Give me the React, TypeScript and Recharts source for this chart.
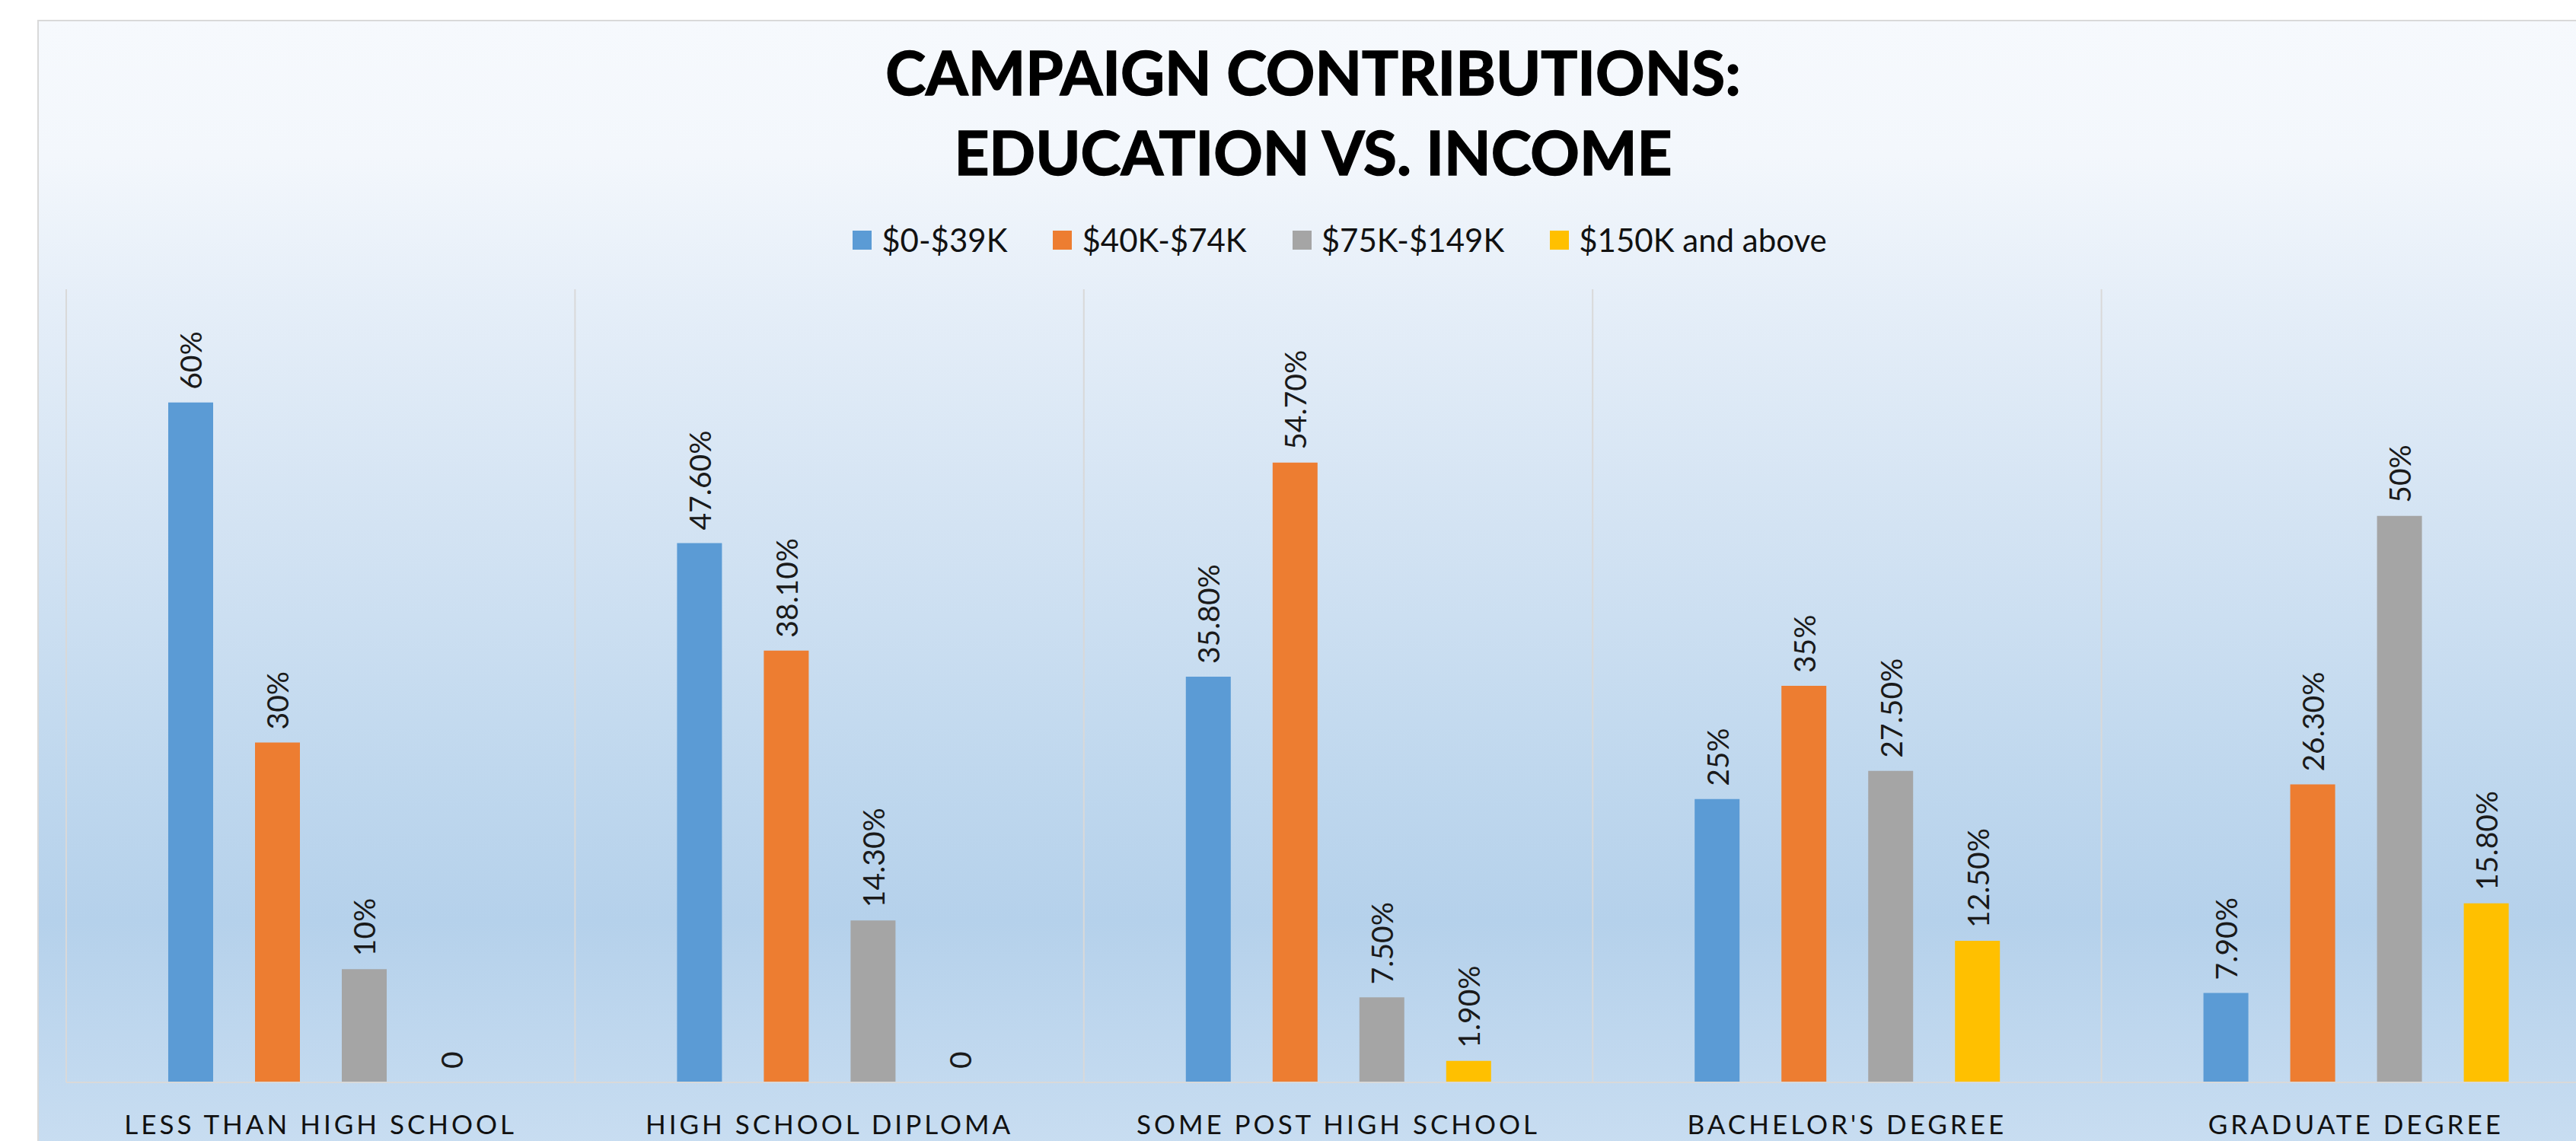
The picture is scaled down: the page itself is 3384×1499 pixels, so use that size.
import React from "react";
import { BarChart, Bar, XAxis, YAxis, CartesianGrid, Legend, LabelList, Cell } from "recharts";

const categories = [
  "LESS THAN HIGH SCHOOL",
  "HIGH SCHOOL DIPLOMA",
  "SOME POST HIGH SCHOOL",
  "BACHELOR'S DEGREE",
  "GRADUATE DEGREE",
];

const income0to39 = [60, 47.6, 35.8, 25, 7.9];
const income40to74 = [30, 38.1, 54.7, 35, 26.3];
const income75to149 = [10, 14.3, 7.5, 27.5, 50];
const income150plus = [0, 0, 1.9, 12.5, 15.8];

const seriesNames = ["$0-$39K", "$40K-$74K", "$75K-$149K", "$150K and above"];
const seriesKeys = ["s0", "s1", "s2", "s3"];
const seriesValues = [income0to39, income40to74, income75to149, income150plus];
const seriesColors = ["#5b9bd5", "#ed7d31", "#a5a5a5", "#ffc000"];

const yDomain = [0, 70];

const data = categories.map((name, i) => ({
  name,
  s0: income0to39[i],
  s1: income40to74[i],
  s2: income75to149[i],
  s3: income150plus[i],
}));

const FONT = "Lato, 'Open Sans', sans-serif";

const fmt = (v: number) => {
  if (v === 0) return "0";
  if (Number.isInteger(v)) return `${v}%`;
  return `${v.toFixed(2)}%`;
};

const ValueLabel = (props: any) => {
  const { x, y, width, value } = props;
  if (x == null || y == null) return null;
  const cx = Number(x) + Number(width) / 2;
  const cy = Number(y) - 17;
  return (
    <text
      x={cx}
      y={cy}
      transform={`rotate(-90 ${cx} ${cy})`}
      textAnchor="start"
      dominantBaseline="central"
      fontFamily={FONT}
      fontSize={39}
      fill="#1a1a1a"
    >
      {fmt(Number(value))}
    </text>
  );
};

const CategoryTick = (props: any) => {
  const { x, y, payload } = props;
  return (
    <text
      x={x}
      y={y + 60}
      textAnchor="middle"
      fontFamily={FONT}
      fontSize={35}
      letterSpacing={4}
      fill="#111"
    >
      {payload.value}
    </text>
  );
};

const LegendContent = () => (
  <div
    style={{
      display: "flex",
      justifyContent: "center",
      alignItems: "center",
      fontFamily: FONT,
      fontSize: 42,
      color: "#111",
    }}
  >
    {seriesNames.map((n, i) => (
      <div key={n} style={{ display: "flex", alignItems: "center", marginRight: i < 3 ? 60 : 0 }}>
        <span style={{ width: 25, height: 25, background: seriesColors[i], marginRight: 13 }} />
        <span>{n}</span>
      </div>
    ))}
  </div>
);

// gridlines sit on the category boundaries, not the centres
const boundaryLines = ({ xAxis, offset }: any) => {
  let start = offset.left;
  let end = offset.left + offset.width;
  try {
    const s = xAxis && xAxis.scale;
    if (s && typeof s.range === "function") {
      const r = s.range();
      start = Math.min(r[0], r[1]);
      end = Math.max(r[0], r[1]);
    }
  } catch (e) {
    // keep the plot offsets
  }
  const step = (end - start) / categories.length;
  return [...categories.map((_, i) => start + i * step), end];
};

export default function App() {
  const W = 3398;
  const H = 1478;
  return (
    <div
      style={{
        position: "absolute",
        left: 0,
        top: 0,
        width: 3384,
        height: 1499,
        overflow: "hidden",
        background: "#fff",
      }}
    >
      <div
        style={{
          position: "absolute",
          left: 49,
          top: 26,
          width: W,
          height: H,
          border: "2px solid #d9d9d9",
          background:
            "linear-gradient(to bottom, #f6f9fd 0%, #f3f7fc 12%, #e5eef8 25%, #d3e3f3 45%, #c0d8ee 66%, #b5d1eb 80%, #c8ddf1 100%)",
        }}
      >
        <svg
          width={W}
          height={260}
          style={{ position: "absolute", left: 0, top: 0, pointerEvents: "none" }}
        >
          <text x={1674} y={97} textAnchor="middle" fontFamily={FONT} fontWeight={700} fontSize={80} fill="#000" stroke="#000" strokeWidth={1.5}>
            CAMPAIGN CONTRIBUTIONS:
          </text>
          <text x={1674} y={202} textAnchor="middle" fontFamily={FONT} fontWeight={700} fontSize={80} fill="#000" stroke="#000" strokeWidth={1.5}>
            EDUCATION VS. INCOME
          </text>
        </svg>
        <BarChart
          width={W}
          height={H}
          data={data}
          margin={{ top: 352, right: 20, left: 36, bottom: 0 }}
          barSize={59}
          barGap={55}
          style={{ position: "absolute", left: 0, top: 0 }}
        >
          <CartesianGrid
            vertical
            horizontal={false}
            stroke="#d9d9d9"
            strokeWidth={2}
            verticalCoordinatesGenerator={boundaryLines}
          />
          <XAxis
            dataKey="name"
            interval={0}
            height={84}
            tickLine={false}
            axisLine={{ stroke: "#d9d9d9", strokeWidth: 2 }}
            tick={<CategoryTick />}
          />
          <YAxis hide domain={yDomain} allowDataOverflow />
          <Legend
            layout="horizontal"
            verticalAlign="middle"
            align="center"
            content={<LegendContent />}
            wrapperStyle={{ top: 262, left: 1000, width: 1418 }}
          />
          {seriesKeys.map((k, i) => (
            <Bar
              key={k}
              dataKey={k}
              name={seriesNames[i]}
              fill={seriesColors[i]}
              minPointSize={1}
              isAnimationActive={false}
            >
              {seriesValues[i].map((v, j) => (
                <Cell key={j} fill={v === 0 ? "transparent" : seriesColors[i]} />
              ))}
              <LabelList dataKey={k} content={<ValueLabel />} />
            </Bar>
          ))}
        </BarChart>
      </div>
    </div>
  );
}
